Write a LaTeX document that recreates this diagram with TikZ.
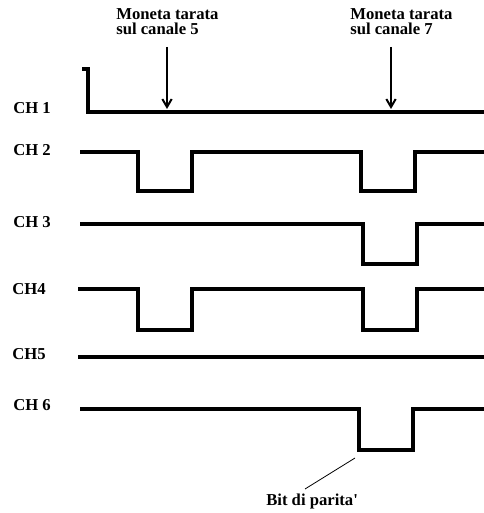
\documentclass[tikz,border=0pt]{standalone}
\usepackage{fontspec}
\setmainfont{Liberation Serif}[Ligatures=TeXOff]
\usetikzlibrary{arrows.meta}
\begin{document}
\begin{tikzpicture}[x=0.75pt,y=-0.75pt,
  lbl/.style={font=\bfseries\fontsize{12.5pt}{11.5pt}\selectfont,inner sep=0pt},
  wave/.style={line width=2.3pt,line join=miter},
  marker/.style={line width=1.5pt,-{Straight Barb[length=6pt,width=7pt,line width=1.5pt]}},
  leader/.style={line width=0.6pt}]
\useasboundingbox (0,0) rectangle (484,513);
% top labels
\node[lbl,anchor=north west,align=left] (m5) at (116,8) {Moneta tarata\\sul canale 5};
\node[lbl,anchor=north west,align=left] (m7) at (350,8) {Moneta tarata\\sul canale 7};
% channel labels
\node[lbl,anchor=west] (ch1) at (13,108) {CH 1};
\node[lbl,anchor=west] (ch2) at (13,150) {CH 2};
\node[lbl,anchor=west] (ch3) at (13,222) {CH 3};
\node[lbl,anchor=west] (ch4) at (12,289) {CH4};
\node[lbl,anchor=west] (ch5) at (12,354) {CH5};
\node[lbl,anchor=west] (ch6) at (13,405) {CH 6};
% waveforms
\draw[wave] (82,69) -- (88,69) -- (88,112) -- (484,112);
\draw[wave] (80,152) -- (138,152) -- (138,191) -- (192,191) -- (192,152) -- (361,152) -- (361,191) -- (415,191) -- (415,152) -- (484,152);
\draw[wave] (80,224) -- (363,224) -- (363,264) -- (417,264) -- (417,224) -- (484,224);
\draw[wave] (78,289) -- (138,289) -- (138,330) -- (192,330) -- (192,289) -- (363,289) -- (363,330) -- (417,330) -- (417,289) -- (484,289);
\draw[wave] (78,357) -- (484,357);
\draw[wave] (80,409) -- (359,409) -- (359,450) -- (413,450) -- (413,409) -- (484,409);
% arrows
\coordinate (a5s) at (167,47);
\coordinate (a5e) at (167,109);
\coordinate (a7s) at (391,47);
\coordinate (a7e) at (391,109);
\draw[marker] (a5s) -- (a5e);
\draw[marker] (a7s) -- (a7e);
% parity bit
\node[lbl,anchor=base west] (bit) at (266,505) {Bit di parita'};
\coordinate (ls) at (355,458);
\draw[leader] (ls) -- (305,489);
\end{tikzpicture}
\end{document}
